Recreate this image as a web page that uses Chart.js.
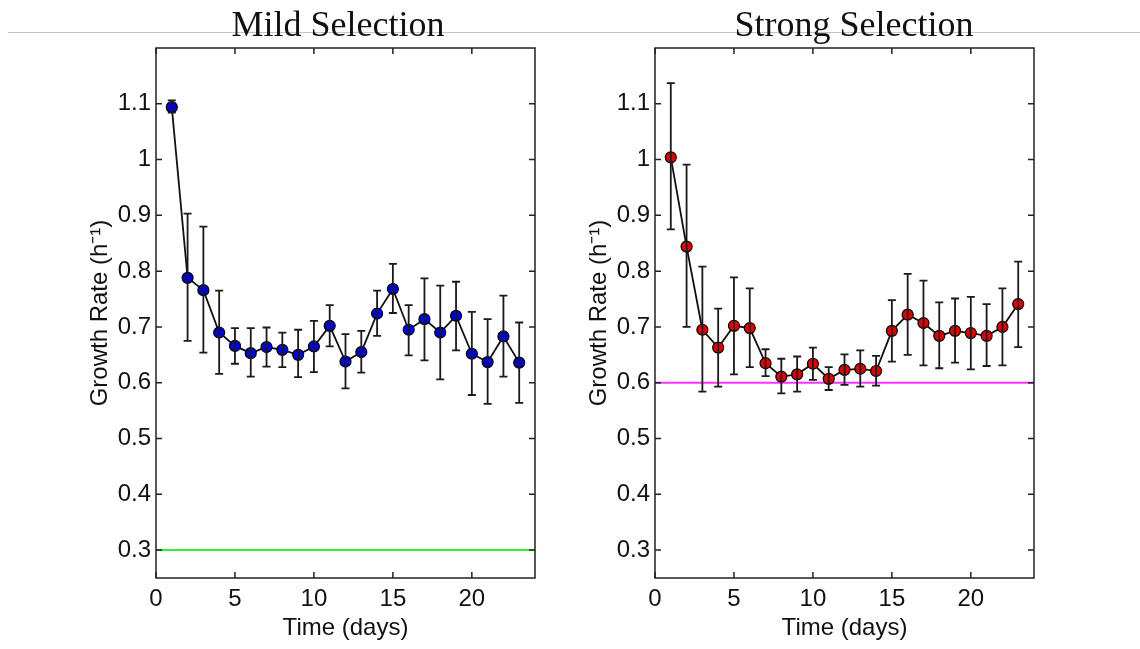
<!DOCTYPE html>
<html>
<head>
<meta charset="utf-8">
<script src="https://cdn.jsdelivr.net/npm/chart.js@4.4.0/dist/chart.umd.min.js"></script>
<style>
    html, body { margin: 0; padding: 0; background: #fff; }
    #page { position: relative; width: 1140px; height: 649px; overflow: hidden; }
    #rule { position: absolute; left: 8px; top: 32px; width: 1132px; height: 1px; background: #c4c4c4; }
    canvas { position: absolute; top: 0; }
    #mildChart { left: 0; }
    #strongChart { left: 499px; }
</style>
</head>
<body>
<div id="page">
    <div id="rule"></div>
    <canvas id="mildChart" width="570" height="649"></canvas>
    <canvas id="strongChart" width="570" height="649"></canvas>
</div>
<script>
// Data
const days = [1, 2, 3, 4, 5, 6, 7, 8, 9, 10, 11, 12, 13, 14, 15, 16, 17, 18, 19, 20, 21, 22, 23];
const xTicks = [0, 5, 10, 15, 20];
const yTicks = [0.3, 0.4, 0.5, 0.6, 0.7, 0.8, 0.9, 1, 1.1];

const mildRate = [1.094, 0.788, 0.766, 0.690, 0.666, 0.653, 0.664, 0.659, 0.650, 0.665, 0.702, 0.638,
    0.655, 0.724, 0.768, 0.695, 0.714, 0.690, 0.720, 0.652, 0.637, 0.683, 0.636];
const mildLow = [1.084, 0.675, 0.654, 0.616, 0.634, 0.611, 0.629, 0.628, 0.610, 0.619, 0.665, 0.590,
    0.618, 0.684, 0.725, 0.649, 0.640, 0.606, 0.658, 0.578, 0.562, 0.611, 0.564];
const mildHigh = [1.106, 0.903, 0.880, 0.765, 0.698, 0.698, 0.699, 0.690, 0.695, 0.711, 0.739, 0.687,
    0.693, 0.765, 0.813, 0.739, 0.787, 0.774, 0.781, 0.727, 0.714, 0.756, 0.708];

const strongRate = [1.004, 0.844, 0.695, 0.663, 0.702, 0.698, 0.635, 0.611, 0.615, 0.634, 0.607, 0.623,
    0.625, 0.621, 0.693, 0.722, 0.707, 0.684, 0.693, 0.689, 0.684, 0.700, 0.741];
const strongLow = [0.875, 0.700, 0.584, 0.593, 0.615, 0.628, 0.612, 0.581, 0.584, 0.605, 0.587, 0.596,
    0.593, 0.595, 0.638, 0.650, 0.631, 0.626, 0.636, 0.624, 0.630, 0.631, 0.664];
const strongHigh = [1.137, 0.991, 0.808, 0.733, 0.789, 0.769, 0.660, 0.643, 0.647, 0.663, 0.628, 0.651,
    0.658, 0.648, 0.748, 0.795, 0.783, 0.744, 0.751, 0.754, 0.741, 0.769, 0.817];

const mildTarget = 0.3;
const strongTarget = 0.6;

Chart.defaults.font.family = '"Liberation Sans", Arial, Helvetica, sans-serif';
Chart.defaults.color = '#111';

// Error bars go on top of the markers, like the original
const errorBars = {
    id: 'errorBars',
    afterDatasetsDraw(chart, args, opts) {
        const { ctx, scales: { x, y } } = chart;
        ctx.save();
        ctx.strokeStyle = '#1a1a1a';
        ctx.lineWidth = 1.8;
        opts.low.forEach((lo, i) => {
            const px = x.getPixelForValue(days[i]);
            const top = y.getPixelForValue(opts.high[i]);
            const bot = y.getPixelForValue(lo);
            ctx.beginPath();
            ctx.moveTo(px, top);
            ctx.lineTo(px, bot);
            ctx.moveTo(px - 4, top);
            ctx.lineTo(px + 4, top);
            ctx.moveTo(px - 4, bot);
            ctx.lineTo(px + 4, bot);
            ctx.stroke();
        });
        ctx.restore();
    }
};

// Box round the plot with inward ticks on all four sides
const frame = {
    id: 'frame',
    afterDraw(chart) {
        const { ctx, chartArea: a, scales: { x, y } } = chart;
        ctx.save();
        ctx.strokeStyle = '#222';
        ctx.lineWidth = 1.5;
        ctx.strokeRect(a.left, a.top, a.right - a.left, a.bottom - a.top);
        ctx.beginPath();
        xTicks.forEach(v => {
            const px = x.getPixelForValue(v);
            ctx.moveTo(px, a.bottom);
            ctx.lineTo(px, a.bottom - 6);
            ctx.moveTo(px, a.top);
            ctx.lineTo(px, a.top + 6);
        });
        yTicks.forEach(v => {
            const py = y.getPixelForValue(v);
            ctx.moveTo(a.left, py);
            ctx.lineTo(a.left + 6, py);
            ctx.moveTo(a.right, py);
            ctx.lineTo(a.right - 6, py);
        });
        ctx.stroke();
        ctx.restore();
    }
};

const panelTitle = {
    id: 'panelTitle',
    afterDraw(chart, args, opts) {
        const { ctx } = chart;
        ctx.save();
        ctx.fillStyle = '#111';
        ctx.font = '36px "Liberation Serif", "DejaVu Serif", serif';
        ctx.textAlign = 'center';
        ctx.textBaseline = 'alphabetic';
        ctx.fillText(opts.text, opts.x, opts.y);
        ctx.restore();
    }
};

function makeChart(id, title, titleX, rate, low, high, target, fill, targetColor) {
    return new Chart(document.getElementById(id), {
        type: 'line',
        data: {
            datasets: [
                {
                    data: days.map((d, i) => ({ x: d, y: rate[i] })),
                    borderColor: '#111',
                    borderWidth: 1.8,
                    pointRadius: 5.5,
                    pointBackgroundColor: fill,
                    pointBorderColor: '#000',
                    pointBorderWidth: 1.2,
                    tension: 0,
                    order: 0
                },
                {
                    data: [{ x: 0, y: target }, { x: 24, y: target }],
                    borderColor: targetColor,
                    borderWidth: 2,
                    pointRadius: 0,
                    order: 1
                }
            ]
        },
        options: {
            responsive: false,
            animation: false,
            devicePixelRatio: 1,
            layout: { padding: { top: 48, right: 35, left: 0, bottom: 0 } },
            scales: {
                x: {
                    type: 'linear',
                    min: 0,
                    max: 24,
                    afterBuildTicks: s => { s.ticks = xTicks.map(v => ({ value: v })); },
                    afterFit: s => { s.height = 71; },
                    grid: { display: false, drawTicks: false },
                    border: { display: false },
                    ticks: { font: { size: 24 }, padding: 7, color: '#111', callback: v => String(v) },
                    title: {
                        display: true,
                        text: 'Time (days)',
                        font: { size: 24 },
                        color: '#111',
                        padding: { top: 0, bottom: 6 }
                    }
                },
                y: {
                    min: 0.25,
                    max: 1.2,
                    afterBuildTicks: s => { s.ticks = yTicks.map(v => ({ value: v })); },
                    afterFit: s => { s.width = 156; },
                    grid: { display: false, drawTicks: false },
                    border: { display: false },
                    ticks: { font: { size: 24 }, padding: 5, color: '#111', callback: v => String(+v.toFixed(1)) },
                    title: {
                        display: true,
                        text: 'Growth Rate (h⁻¹)',
                        font: { size: 24 },
                        color: '#111',
                        padding: { top: 86, bottom: 0 }
                    }
                }
            },
            plugins: {
                legend: { display: false },
                tooltip: { enabled: false },
                errorBars: { low: low, high: high },
                panelTitle: { text: title, x: titleX, y: 36 }
            }
        },
        plugins: [errorBars, frame, panelTitle]
    });
}

makeChart('mildChart', 'Mild Selection', 338, mildRate, mildLow, mildHigh, mildTarget, '#0000e6', '#33f033');
makeChart('strongChart', 'Strong Selection', 355, strongRate, strongLow, strongHigh, strongTarget, '#e60000', '#ff33ff');
</script>
</body>
</html>
